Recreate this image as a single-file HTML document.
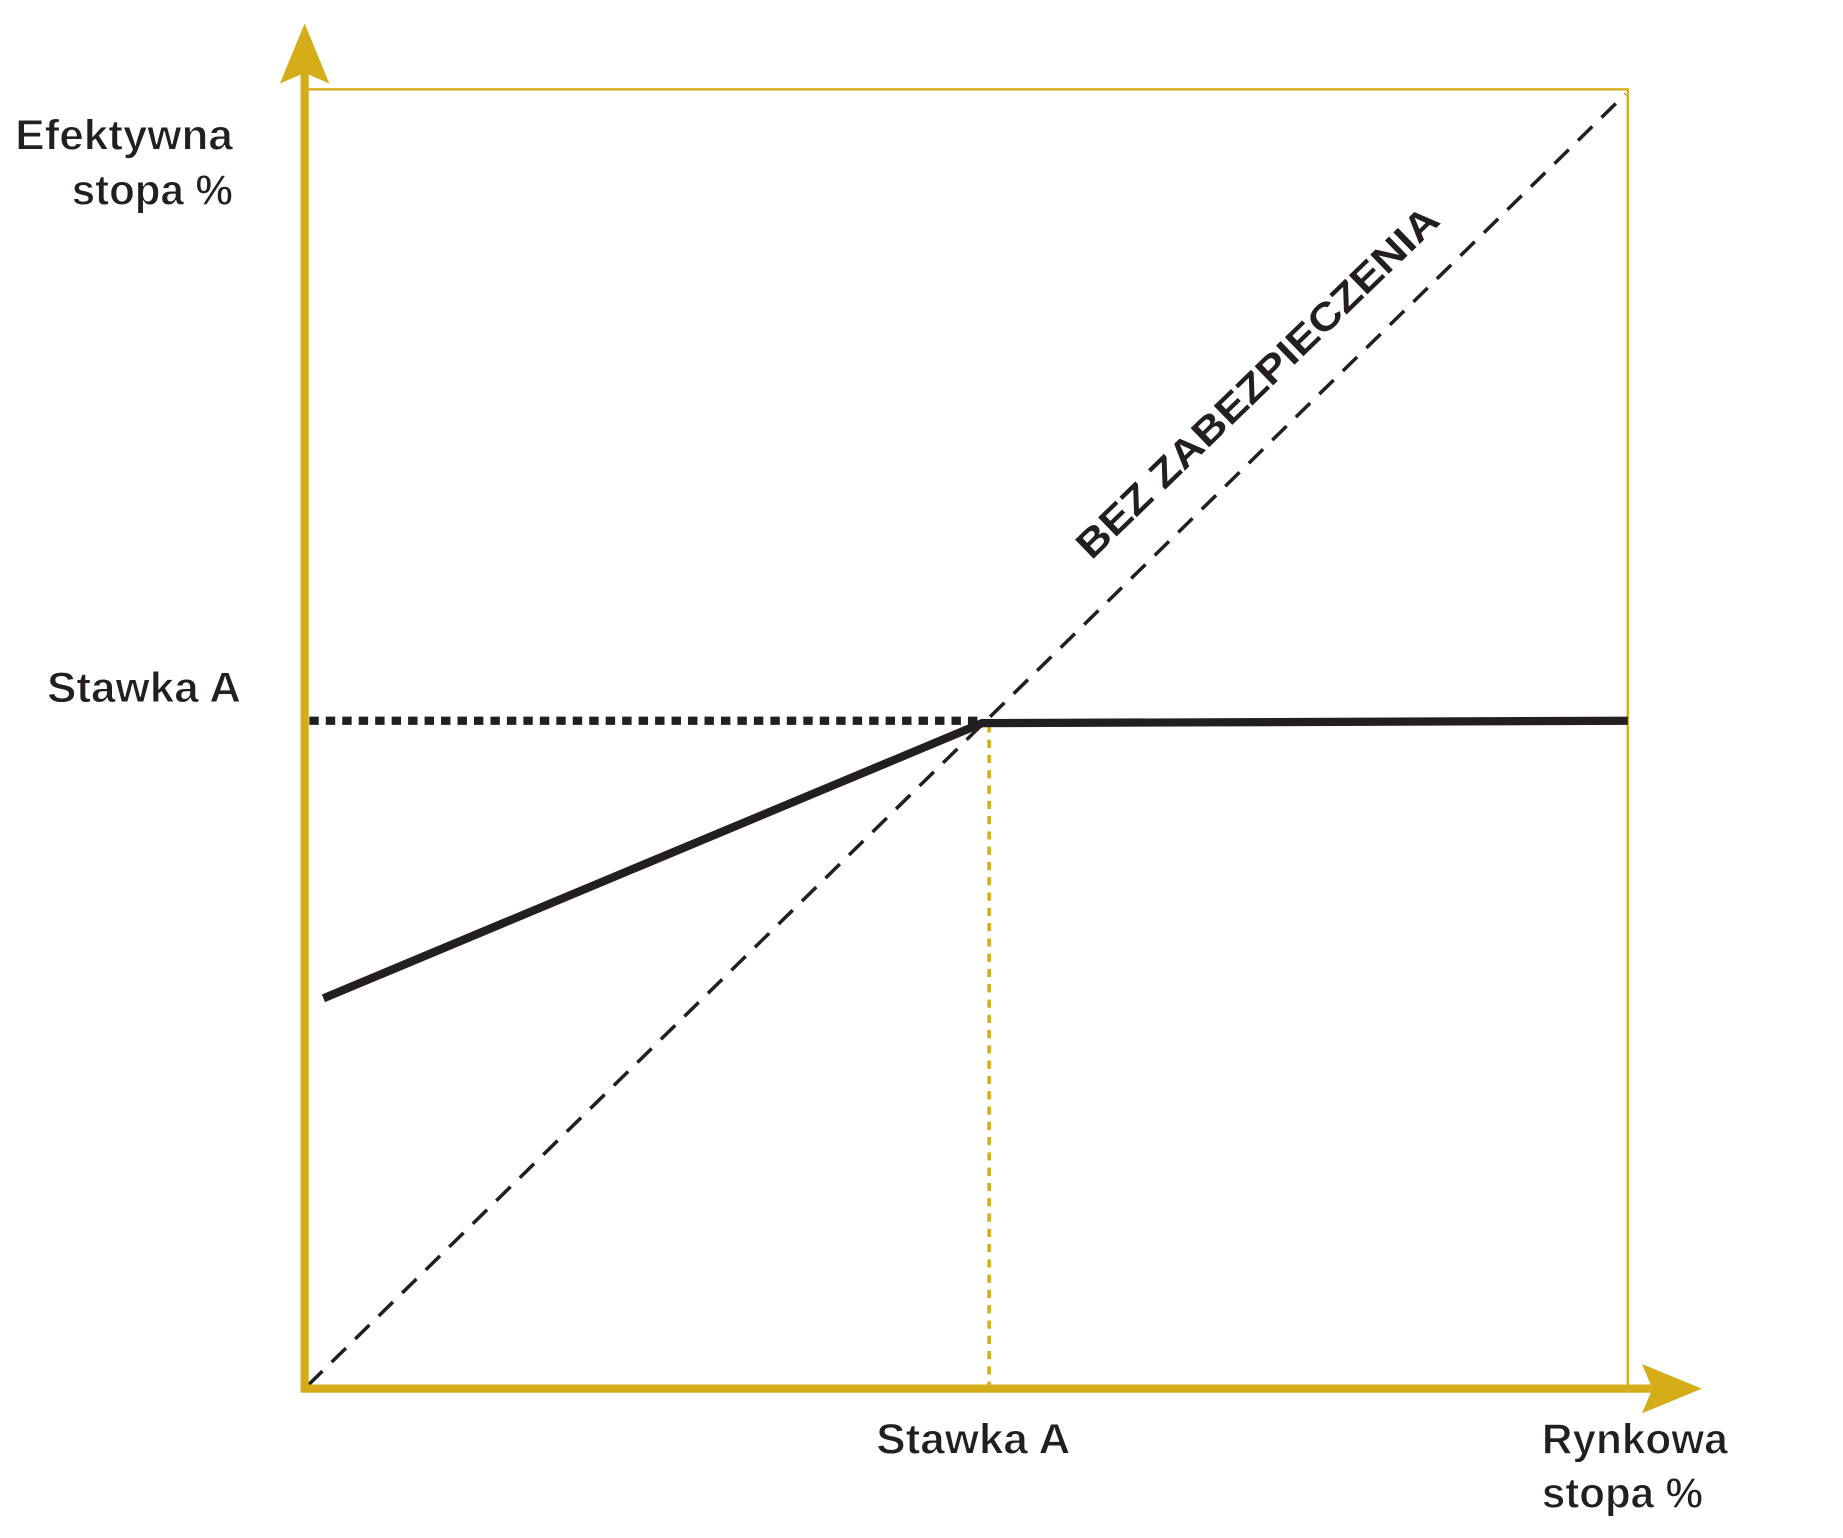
<!DOCTYPE html>
<html><head><meta charset="utf-8"><style>html,body{margin:0;padding:0;background:#fff}svg{display:block}</style></head>
<body>
<svg width="1843" height="1538" viewBox="0 0 1567 1308" preserveAspectRatio="none" xmlns="http://www.w3.org/2000/svg" font-family="Liberation Sans, sans-serif">
<rect x="0" y="0" width="1567" height="1308" fill="#fff"/>
<rect x="259" y="76" width="1125" height="1105" fill="none" stroke="#d4ad19" stroke-width="2"/>
<line x1="262" y1="1178" x2="1382" y2="80" stroke="#231f20" stroke-width="3" stroke-dasharray="17,11"/>
<line x1="841" y1="616" x2="841" y2="1178" stroke="#d4ad19" stroke-width="3" stroke-dasharray="7,6"/>
<line x1="263" y1="613" x2="835" y2="613" stroke="#231f20" stroke-width="7" stroke-dasharray="8,6"/>
<polyline points="275,849 835,615 1384,613" fill="none" stroke="#231f20" stroke-width="7"/>
<line x1="259" y1="60" x2="259" y2="1184" stroke="#d4ad19" stroke-width="7"/>
<line x1="256" y1="1181" x2="1405" y2="1181" stroke="#d4ad19" stroke-width="7"/>
<polygon points="259,20 280,71 259,62 238,71" fill="#d4ad19"/>
<polygon points="1447,1181 1396,1202 1405,1181 1396,1160" fill="#d4ad19"/>
<g fill="#231f20" font-size="36" font-weight="bold" stroke="#fff" stroke-width="0.8">
<text x="198" y="127" text-anchor="end" textLength="185" lengthAdjust="spacingAndGlyphs">Efektywna</text>
<text x="198" y="174" text-anchor="end" textLength="137" lengthAdjust="spacingAndGlyphs">stopa %</text>
<text x="40" y="597" textLength="165" lengthAdjust="spacingAndGlyphs">Stawka A</text>
<text x="745" y="1236" textLength="165" lengthAdjust="spacingAndGlyphs">Stawka A</text>
<text x="1311" y="1236" textLength="158" lengthAdjust="spacingAndGlyphs">Rynkowa</text>
<text x="1311" y="1282" textLength="137" lengthAdjust="spacingAndGlyphs">stopa %</text>
<text x="0" y="0" stroke="none" font-size="33" transform="translate(928,477) rotate(-44)" textLength="414" lengthAdjust="spacingAndGlyphs">BEZ ZABEZPIECZENIA</text>
</g>
</svg>
</body></html>
